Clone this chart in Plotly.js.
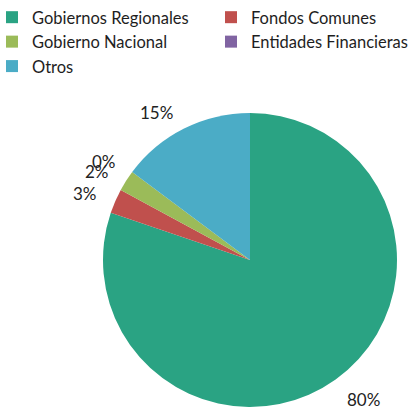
<!DOCTYPE html>
<html>
<head>
<meta charset="utf-8">
<script src="https://cdn.plot.ly/plotly-3.0.1.min.js"></script>
<style>html,body{margin:0;padding:0;background:#fff;overflow:hidden;width:410px;height:409px;}#chart{width:460px;height:409px;}</style>
</head>
<body>
<div id="chart"></div>
<script>
var categories = ["Gobiernos Regionales", "Fondos Comunes", "Gobierno Nacional", "Entidades Financieras", "Otros"];
var values = [80.2, 2.7, 2.3, 0, 14.8];
var colors = ["#2AA383", "#C0504D", "#9BBB59", "#8064A2", "#4BACC6"];

// the figure is laid out 460px wide so the two-column legend fits; only the left 410px are shown
var W = 460, H = 409;
var cx = 250, cy = 260, r = 147;
var dom = { x: [(cx - r) / W, (cx + r) / W], y: [(H - cy - r) / H, (H - cy + r) / H] };

var total = values.reduce(function (a, b) { return a + b; }, 0);
var annotations = [];
var cum = 0;
var R = r + 17;
values.forEach(function (v) {
  var mid = (cum + v / 2) / total * 2 * Math.PI;
  cum += v;
  var s = Math.sin(mid), c = Math.cos(mid);
  var px = cx + R * s, py = cy - R * c;
  var top = c < 0, left = s >= 0;
  annotations.push({
    x: px / W, y: 1 - py / H, xref: "paper", yref: "paper",
    text: Math.round(v / total * 100) + "%", showarrow: false,
    xanchor: left ? "left" : "right",
    yanchor: top ? "top" : "bottom",
    xshift: left ? 0 : -2,
    yshift: top ? 5 : -11,
    borderpad: 0,
    font: { family: "Lato, sans-serif", size: 17, color: "#222" }
  });
});

var trace = {
  type: "pie",
  labels: categories,
  values: values,
  marker: { colors: colors, line: { width: 0 } },
  sort: false,
  direction: "clockwise",
  rotation: 0,
  textinfo: "none",
  hoverinfo: "label+percent",
  domain: dom
};

var layout = {
  width: W, height: H,
  margin: { l: 0, r: 0, t: 0, b: 0, autoexpand: false },
  paper_bgcolor: "#fff",
  showlegend: true,
  legend: {
    orientation: "h", x: -8 / W, y: 1.0001, xanchor: "left", yanchor: "top",
    entrywidth: 174, entrywidthmode: "pixels",
    font: { family: "Lato, sans-serif", size: 16.5, color: "#1e1e1e" },
    traceorder: "normal"
  },
  annotations: annotations
};

Plotly.newPlot("chart", [trace], layout, { displayModeBar: false, staticPlot: true });
</script>
</body>
</html>
